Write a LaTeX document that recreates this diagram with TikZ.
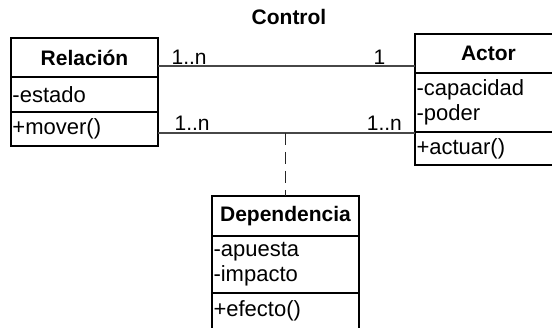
\documentclass[tikz,border=0pt]{standalone}
\usepackage{fontspec}
\setmainfont{Liberation Sans}
\usetikzlibrary{positioning}

\begin{document}
\begin{tikzpicture}[x=1pt, y=1pt, semithick, node distance=0pt]
	\tikzstyle{every node}=[font=\fontsize{22}{25}\selectfont]
	\tikzstyle{cname}=[draw=black, line width=1.6pt, outer sep=0pt, inner sep=0pt, minimum width=147pt, minimum height=39pt, font=\fontsize{21}{25}\selectfont\bfseries]
	\tikzstyle{cpart}=[draw=black, line width=1.6pt, outer sep=0pt, inner xsep=1.5pt, inner ysep=0pt, text width=144pt, align=left]
	\tikzstyle{assoc}=[draw=black!72, line width=1.2pt]
	\tikzstyle{mult}=[inner sep=0pt, font=\fontsize{21}{25}\selectfont]
	\useasboundingbox (0,0) rectangle (552,328);

	\node[anchor=base, font=\fontsize{21}{25}\selectfont\bfseries] (ctl) at (289,303) {Control};

	\node[cname, anchor=north west] (rel) at (11,290) {Relación};
	\node[cpart, minimum height=35pt, below=of rel]  (rela) {-estado};
	\node[cpart, minimum height=34pt, below=of rela] (relm) {+mover()};

	\node[cname, anchor=north west] (act) at (415,294) {Actor};
	\node[cpart, minimum height=59pt, below=of act]  (acta) {-capacidad\\-poder};
	\node[cpart, minimum height=33pt, below=of acta] (actm) {+actuar()};

	\node[cname, anchor=north west, minimum height=40pt] (dep) at (212,132) {Dependencia};
	\node[cpart, minimum height=57pt, below=of dep]  (depa) {-apuesta\\-impacto};
	\node[cpart, minimum height=36pt, below=of depa] (depm) {+efecto()};

	\coordinate (up) at (0,262);
	\coordinate (lo) at (0,195);
	\path
		(rel.east |- up) edge[assoc] node[mult, pos=0, anchor=base west, xshift=13pt, yshift=1.5pt] {1..n}
		                            node[mult, pos=1, anchor=base east, xshift=-29pt, yshift=1.5pt] {1} (act.west |- up)
		(rel.east |- lo) edge[assoc] node[mult, pos=0, anchor=base west, xshift=16pt, yshift=2pt] {1..n}
		                            node[mult, pos=1, anchor=base east, xshift=-12.5pt, yshift=2pt] {1..n} (act.west |- lo);
	\draw[assoc, draw=black!85, dash pattern=on 12pt off 7pt] (dep.north |- lo) -- (dep.north);
\end{tikzpicture}
\end{document}
